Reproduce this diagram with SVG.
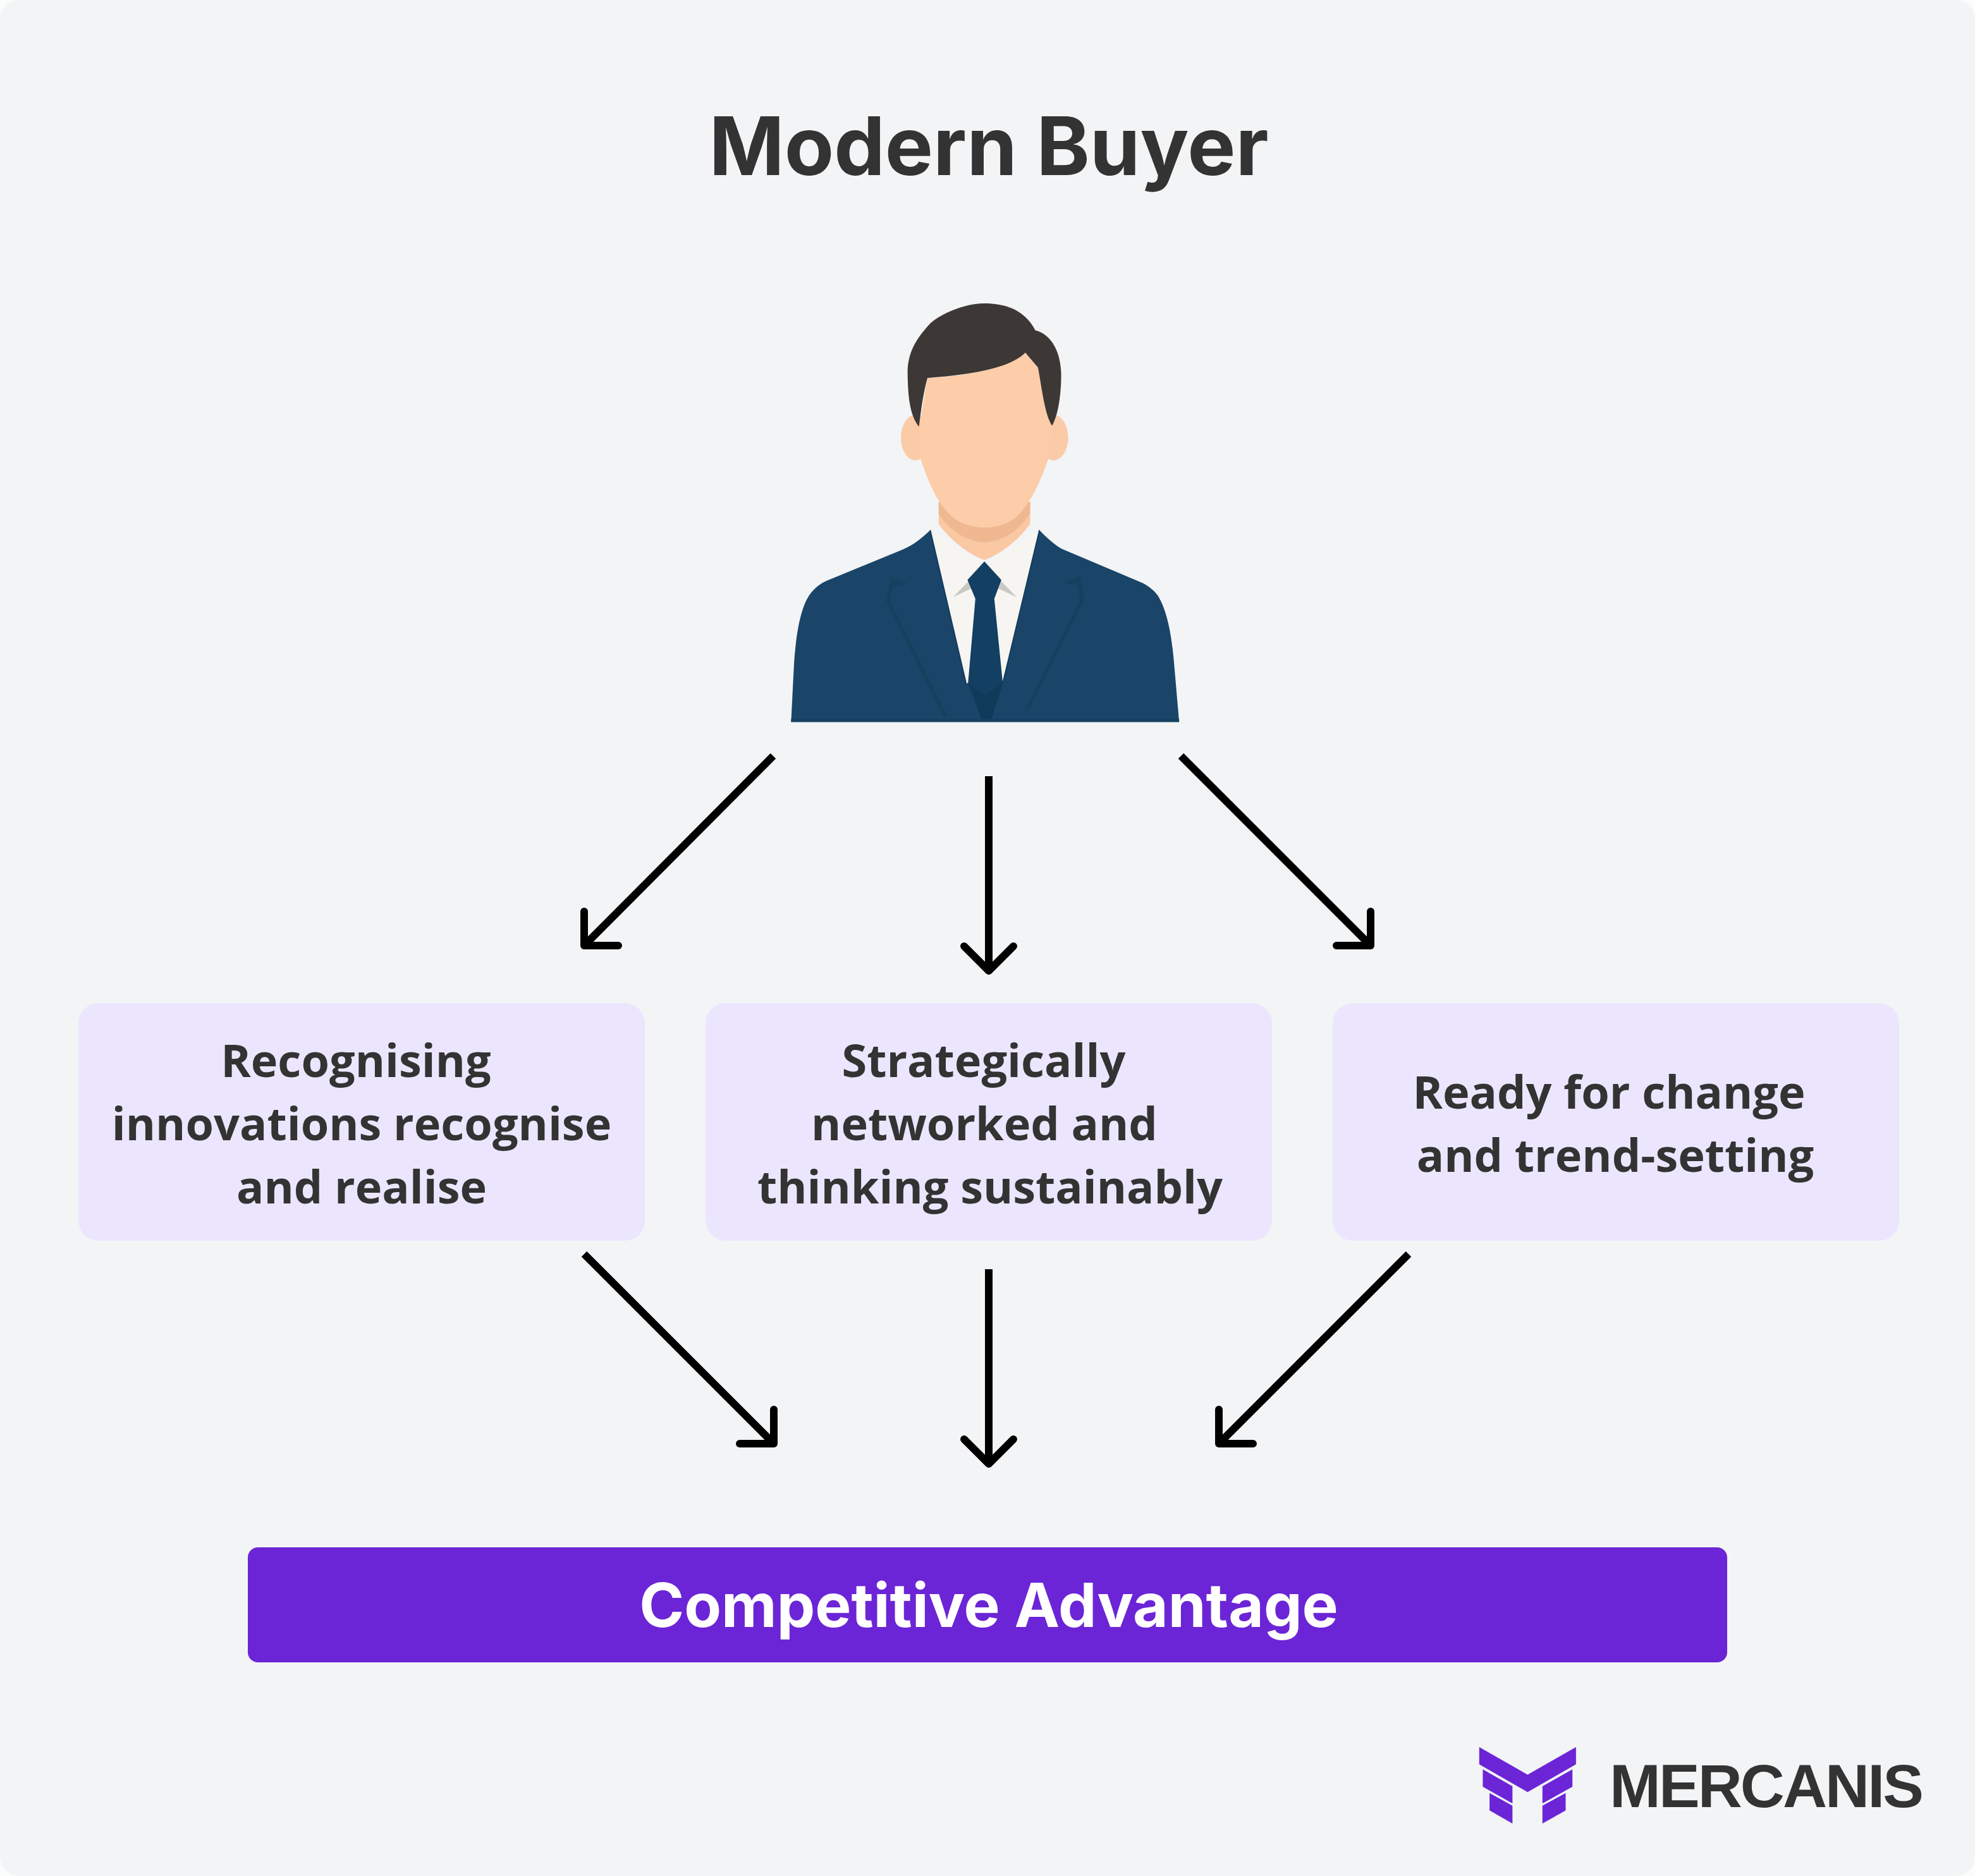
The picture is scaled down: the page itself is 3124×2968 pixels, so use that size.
<svg xmlns="http://www.w3.org/2000/svg" width="3124" height="2968" viewBox="0 0 3124 2968">
<style>
.box{fill:#ebe6fd}
.lbl{font-family:"Open Sans","Liberation Sans",sans-serif;font-weight:700;font-size:72px;fill:#333;text-anchor:middle}
.ttl{font-family:Inter,"Liberation Sans",sans-serif;font-weight:700;text-anchor:middle}
.ar{fill:none;stroke:#000;stroke-width:12;stroke-linejoin:round}
.hd{stroke-linecap:round}
.lg{fill:#6b25d6}
</style>
<rect width="3124" height="2968" fill="#fbfcfc"/>
<rect id="background" width="3124" height="2968" rx="30" fill="#f2f4f6"/>
<text id="title" class="ttl" x="1564" y="277" font-size="128" fill="#333">Modern Buyer</text>
<g id="buyer" transform="translate(1200 440) scale(.4464 .4719)">
<path fill="#1a4568" d="M115 1488L125 1300C132 1190 150 1085 195 1045C210 1030 225 1022 240 1015L510 910C550 895 580 870 608 845L800 1000L995 845C1020 870 1050 895 1075 908L1360 1022C1380 1032 1400 1045 1415 1065C1450 1120 1462 1200 1470 1270L1490 1488Z"/>
<path fill="#17405f" d="M450 1078L470 1005L528 1022L475 1035L466 1085L670 1470L655 1470Z"/>
<path fill="#17405f" d="M1155 1078L1140 998L1080 1022L1132 1030L1136 1085L945 1445L958 1445Z"/>
<path fill="#f6f5f1" d="M608 845L735 1358L865 1358L995 845L800 960Z"/>
<path fill="none" stroke="#123a5c" stroke-width="4" d="M608 845L735 1358M995 845L865 1358"/>
<path fill="#c9c9c4" d="M745 1015L688 1070L755 1040ZM855 1012L915 1070L848 1040Z"/>
<path fill="#123f62" d="M800 950L740 1012L768 1075L742 1358L790 1478L825 1478L865 1358L835 1075L860 1012Z"/>
<path fill="#0f3a5a" d="M742 1358L790 1478L825 1478L865 1358L800 1400Z"/>
<path fill="#164060" d="M115 1478H1490V1488H115Z"/>
<ellipse cx="555" cy="535" rx="51" ry="76" fill="#fbcba8"/>
<ellipse cx="1045" cy="535" rx="52" ry="76" fill="#fbcba8"/>
<path fill="#fbc8a4" d="M638 750L638 825C680 880 750 930 800 945C850 930 920 880 962 825L962 750Z"/>
<path fill="#f0b890" d="M638 750V790C680 850 740 885 800 885C860 885 920 850 962 790V750Z"/>
<path fill="#fdcca8" d="M598 335L570 495L575 610C600 680 630 750 680 795C740 850 860 850 920 795C965 750 1000 680 1025 610L1035 490L990 300L945 250C880 310 700 330 598 335Z"/>
<path fill="#3d3836" d="M568 498C545 470 530 430 528 330C525 260 550 210 610 150C660 110 740 85 800 85C880 85 945 110 980 175C1040 190 1070 250 1072 320C1072 400 1060 460 1040 495C1015 460 1005 380 990 300L945 250C880 310 720 325 598 335C580 400 575 450 568 498Z"/>
</g>
<g id="connectors">
<path class="ar" d="M1223 1196L924 1496"/><path class="ar hd" d="M924 1442V1496H978"/>
<path class="ar" d="M1564 1228V1536"/><path class="ar hd" d="M1525 1497L1564 1536L1603 1497"/>
<path class="ar" d="M1868 1196L2168 1496"/><path class="ar hd" d="M2168 1442V1496H2114"/>
<path class="ar" d="M924 1984L1224 2284"/><path class="ar hd" d="M1224 2230V2284H1170"/>
<path class="ar" d="M1564 2008V2316"/><path class="ar hd" d="M1525 2277L1564 2316L1603 2277"/>
<path class="ar" d="M2228 1984L1928 2284"/><path class="ar hd" d="M1928 2230V2284H1982"/>
</g>
<g id="node-recognising"><rect class="box" x="124" y="1587" width="896" height="376" rx="32"/>
<text class="lbl" x="563" y="1704">Recognising</text><text class="lbl" x="572" y="1804">innovations recognise</text><text class="lbl" x="572" y="1904">and realise</text></g>
<g id="node-strategically"><rect class="box" x="1116" y="1587" width="896" height="376" rx="32"/>
<text class="lbl" x="1556" y="1704">Strategically</text><text class="lbl" x="1557" y="1804">networked and</text><text class="lbl" x="1566" y="1904">thinking sustainably</text></g>
<g id="node-ready"><rect class="box" x="2108" y="1587" width="896" height="376" rx="32"/>
<text class="lbl" x="2545" y="1754">Ready for change</text><text class="lbl" x="2555" y="1854">and trend-setting</text></g>
<g id="node-advantage"><rect x="392" y="2448" width="2340" height="182" rx="16" fill="#6b25d6"/>
<text class="ttl" x="1564" y="2574" font-size="96" fill="#fff">Competitive Advantage</text></g>
<g id="logo">
<g transform="translate(2300 2720) scale(.5102 .3333)">
<path class="lg" d="M78 132L228 263L378 132V214L228 346L78 214Z"/>
<path class="lg" d="M89 238L181 318V400L89 320Z"/>
<path class="lg" d="M110 350L181 410V495L110 433Z"/>
<path class="lg" d="M367 238L274 318V400L367 320Z"/>
<path class="lg" d="M346 350L274 410V495L346 433Z"/>
</g>
<text x="2546" y="2859" font-family="'Liberation Sans',Arial,sans-serif" font-weight="700" font-size="97" fill="#333" textLength="497" lengthAdjust="spacing">MERCANIS</text>
</g>
</svg>
